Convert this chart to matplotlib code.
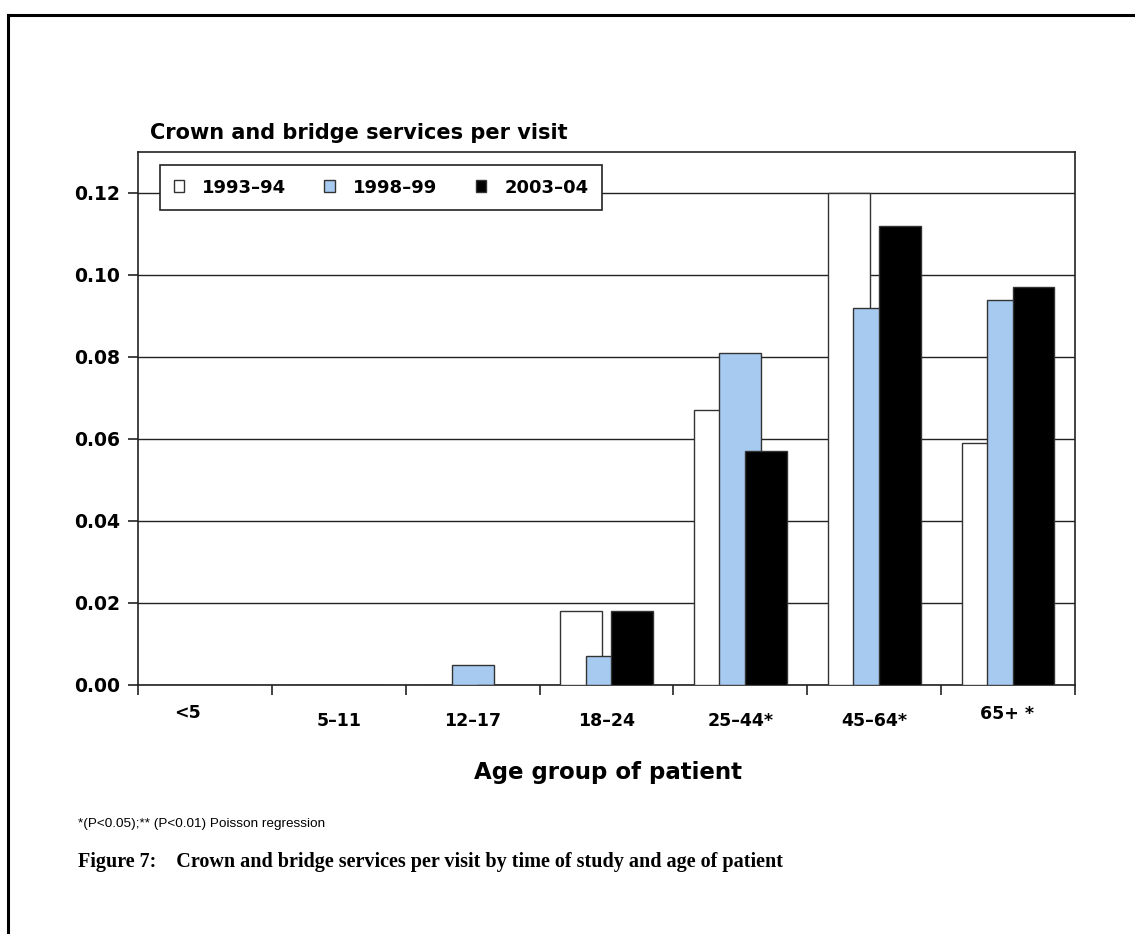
import matplotlib
matplotlib.use("Agg")
import matplotlib.pyplot as plt
from matplotlib.lines import Line2D
from matplotlib.patches import Patch
import matplotlib.transforms as mtransforms
import numpy as np

categories = ["<5", "5\u201311", "12\u201317", "18\u201324", "25\u201344*", "45\u201364*", "65+ *"]
series_names = ["1993\u201394", "1998\u201399", "2003\u201304"]
v1993 = [0.0, 0.0, 0.0, 0.018, 0.067, 0.120, 0.059]
v1998 = [0.0, 0.0, 0.005, 0.007, 0.081, 0.092, 0.094]
v2003 = [0.0, 0.0, 0.0, 0.018, 0.057, 0.112, 0.097]
yticks = [0.00, 0.02, 0.04, 0.06, 0.08, 0.10, 0.12]

colors = ["#ffffff", "#a6caf0", "#000000"]
plt.rcParams['font.family'] = ['DejaVu Sans']

W, H = 1135, 934
fig = plt.figure(figsize=(W/100, H/100), dpi=100)
ax = fig.add_axes([138/W, 1-685/H, (1075-138)/W, (685-152)/H])

x = np.arange(len(categories))
w = 0.313
off = 0.19
for i, (vals, c) in enumerate(zip([v1993, v1998, v2003], colors)):
    ax.bar(x + (i-1)*off, vals, width=w, color=c, edgecolor="#333333", linewidth=1.0, zorder=3+i)

ax.set_xlim(-0.5, len(categories)-0.5)
ax.set_ylim(0, 0.13)
ax.set_yticks(yticks)
ax.set_yticklabels([f"{t:.2f}" for t in yticks], fontsize=13.5, fontweight="bold")
for t in yticks:
    ax.axhline(t, color="#222222", linewidth=1.0, zorder=1)

ax.set_xticks(np.arange(len(categories)+1) - 0.5)
ax.set_xticklabels([])
ax.tick_params(axis='x', length=7, width=1.2, color="#222222")
ax.tick_params(axis='y', length=7, width=1.2, color="#222222", pad=6)
for s in ax.spines.values():
    s.set_color("#222222")
    s.set_linewidth(1.2)

# category labels (offsets in pixels as in the reference layout)
trans = mtransforms.blended_transform_factory(ax.transData, fig.transFigure)
label_y = [713, 721, 721, 721, 721, 721, 714]
label_dx = [-0.13, 0, 0, 0, 0, 0, -0.01]
for i, (cat, yy, dx) in enumerate(zip(categories, label_y, label_dx)):
    ax.text(i + dx, 1 - yy/H, cat, transform=trans, ha="center", va="center",
            fontsize=12.5, fontweight="bold", clip_on=False)

fig.text(608/W, 1-772/H, "Age group of patient", ha="center", va="center", fontsize=16.5, fontweight="bold")
fig.text(150/W, 1-133/H, "Crown and bridge services per visit", ha="left", va="center", fontsize=15, fontweight="bold")

handles = [Patch(facecolor=c, edgecolor="#333333", linewidth=1.0) for c in colors]
leg = ax.legend(handles, series_names, loc="upper left", bbox_to_anchor=(22/937, (685-165)/533), ncol=3,
                frameon=True, fancybox=False, edgecolor="#222222", framealpha=1.0,
                prop={"weight": "bold", "size": 13}, handlelength=0.6, handleheight=0.6,
                columnspacing=2.1, handletextpad=1.0, borderpad=0.75, borderaxespad=0)
leg.get_frame().set_linewidth(1.2)
leg.set_zorder(10)

fig.text(78/W, 1-824/H, "*(P<0.05);** (P<0.01) Poisson regression", ha="left", va="center",
         fontsize=9.7, family=["Liberation Sans", "DejaVu Sans"])
fig.text(78/W, 1-862/H, "Figure 7:    Crown and bridge services per visit by time of study and age of patient",
         ha="left", va="center", fontsize=14.5, fontweight="bold", family=["Liberation Serif", "DejaVu Serif"])

fig.add_artist(Line2D([8/W, 1.0], [1-15/H, 1-15/H], color="black", linewidth=2.2))
fig.add_artist(Line2D([8/W, 8/W], [1-15/H, 0.0], color="black", linewidth=2.2))

fig.savefig("out.png", dpi=100)
